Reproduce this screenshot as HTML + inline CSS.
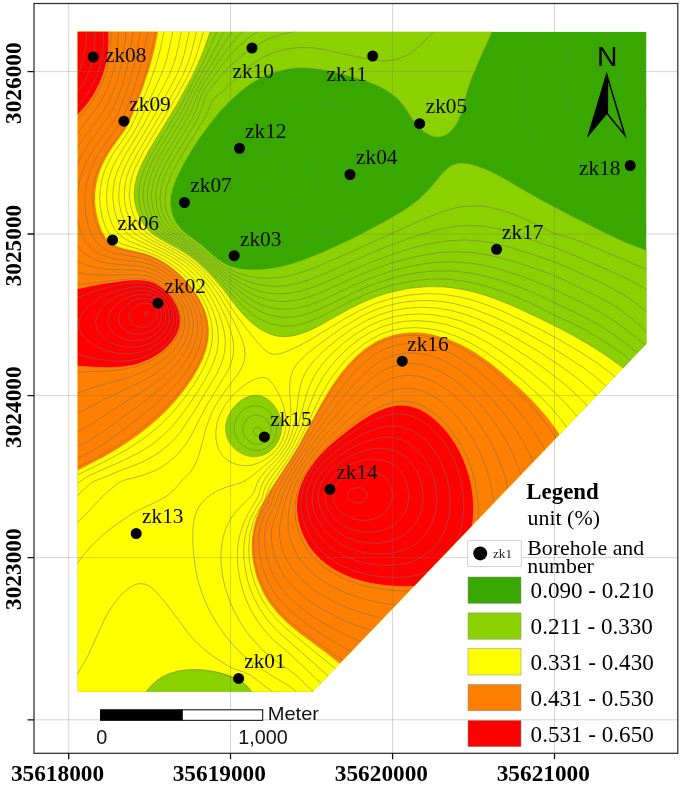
<!DOCTYPE html>
<html lang="en"><head><meta charset="utf-8"><title>Contour map</title>
<style>html,body{margin:0;padding:0;background:#fff}body{width:685px;height:788px;overflow:hidden}</style></head>
<body>
<svg width="685" height="788" viewBox="0 0 685 788" style="display:block">
<defs><clipPath id="mapclip"><polygon points="77.7,31.8 646.5,31.8 646.5,343.7 312.8,691.8 77.7,691.8"/></clipPath><mask id="dgmask" maskUnits="userSpaceOnUse" x="0" y="0" width="685" height="788"><rect width="685" height="788" fill="#fff"/><polygon points="77.7,31.8 646.5,31.8 646.5,343.7 312.8,691.8 77.7,691.8" fill="#555"/><path d="M71.0,24.0 495.1,24.0 491.4,34.0 477.7,64.0 471.5,79.0 467.5,91.0 462.0,111.7 459.3,119.0 457.0,123.4 453.8,128.0 450.0,132.0 446.0,134.9 441.0,136.9 436.0,137.2 431.0,135.9 425.0,132.7 420.3,129.0 416.0,124.4 412.0,119.1 402.8,105.0 396.6,98.0 391.7,94.0 385.7,90.0 379.0,86.5 370.9,83.0 359.0,79.0 340.9,74.0 327.0,70.7 316.0,68.9 306.0,68.0 297.0,68.1 288.0,69.2 279.0,71.2 270.0,74.1 261.0,78.1 252.0,83.1 244.0,88.7 236.0,95.4 228.0,103.1 219.0,113.1 209.0,125.4 199.0,139.1 191.0,151.4 183.0,165.4 176.8,178.0 173.0,187.9 171.1,196.0 170.7,204.0 171.7,211.0 173.2,216.0 175.4,221.0 178.0,225.2 182.0,230.0 187.9,235.0 201.0,244.5 216.0,257.8 223.6,263.0 227.5,265.0 233.0,267.0 239.0,268.4 245.0,269.2 258.0,269.6 273.0,268.0 283.0,265.9 294.0,262.9 305.3,259.0 320.5,253.0 349.0,240.0 383.6,222.0 404.1,210.0 411.4,205.0 419.0,199.0 427.4,191.0 442.0,173.6 446.0,169.5 449.0,167.0 452.0,165.2 456.0,163.7 460.0,163.1 465.0,163.2 471.0,164.2 477.0,165.9 484.0,168.4 491.0,171.4 503.0,177.7 529.0,193.0 548.8,204.0 601.4,231.0 627.2,243.0 655.0,253.1 655.0,700.0 70.0,700.0 70.0,24.0 71.0,24.0Z" fill="#fff" fill-rule="evenodd"/></mask></defs>
<rect width="685" height="788" fill="#fff"/>
<g clip-path="url(#mapclip)">
<polygon points="77.7,31.8 646.5,31.8 646.5,343.7 312.8,691.8 77.7,691.8" fill="#38a800"/>
<path d="M71.0,24.0 495.1,24.0 491.4,34.0 477.7,64.0 471.5,79.0 467.5,91.0 462.0,111.7 459.3,119.0 457.0,123.4 453.8,128.0 450.0,132.0 446.0,134.9 441.0,136.9 436.0,137.2 431.0,135.9 425.0,132.7 420.3,129.0 416.0,124.4 412.0,119.1 402.8,105.0 396.6,98.0 391.7,94.0 385.7,90.0 379.0,86.5 370.9,83.0 359.0,79.0 340.9,74.0 327.0,70.7 316.0,68.9 306.0,68.0 297.0,68.1 288.0,69.2 279.0,71.2 270.0,74.1 261.0,78.1 252.0,83.1 244.0,88.7 236.0,95.4 228.0,103.1 219.0,113.1 209.0,125.4 199.0,139.1 191.0,151.4 183.0,165.4 176.8,178.0 173.0,187.9 171.1,196.0 170.7,204.0 171.7,211.0 173.2,216.0 175.4,221.0 178.0,225.2 182.0,230.0 187.9,235.0 201.0,244.5 216.0,257.8 223.6,263.0 227.5,265.0 233.0,267.0 239.0,268.4 245.0,269.2 258.0,269.6 273.0,268.0 283.0,265.9 294.0,262.9 305.3,259.0 320.5,253.0 349.0,240.0 383.6,222.0 404.1,210.0 411.4,205.0 419.0,199.0 427.4,191.0 442.0,173.6 446.0,169.5 449.0,167.0 452.0,165.2 456.0,163.7 460.0,163.1 465.0,163.2 471.0,164.2 477.0,165.9 484.0,168.4 491.0,171.4 503.0,177.7 529.0,193.0 548.8,204.0 601.4,231.0 627.2,243.0 655.0,253.1 655.0,700.0 70.0,700.0 70.0,24.0 71.0,24.0Z" fill="#8bd100" fill-rule="evenodd"/>
<path d="M71.0,24.0 212.8,24.0 202.4,54.0 197.3,66.0 191.6,78.0 177.8,103.0 148.6,151.0 140.9,166.0 137.1,176.0 135.0,185.0 134.2,194.0 134.8,202.0 136.7,210.0 139.9,218.0 144.1,225.0 148.3,230.0 152.8,234.0 158.5,238.0 179.0,249.1 187.0,254.0 193.9,259.0 199.9,264.0 208.2,272.0 215.5,280.0 223.0,289.0 237.0,307.3 244.0,315.5 251.0,322.3 259.0,328.4 268.0,333.3 276.0,335.9 284.0,336.8 293.0,335.9 303.0,333.1 314.0,328.4 350.0,308.6 364.0,301.7 376.0,296.8 388.0,292.9 406.0,288.8 424.0,286.8 433.0,286.5 442.0,286.7 459.0,288.7 470.0,291.0 482.0,294.3 494.0,298.3 507.0,303.4 523.0,310.4 542.0,319.4 561.1,329.0 577.0,337.6 601.0,352.0 622.3,367.0 630.7,374.0 639.0,381.6 647.3,390.0 655.0,398.5 655.0,700.0 256.6,700.0 252.0,692.0 247.3,686.0 242.0,681.4 236.0,677.8 228.0,674.5 218.0,671.9 206.0,670.0 195.0,669.3 186.0,669.8 178.0,671.0 170.0,673.3 163.0,676.4 157.3,680.0 152.5,684.0 145.0,693.0 138.1,700.0 70.0,700.0 70.0,24.0 71.0,24.0ZM250.2,396.0 245.0,398.0 240.0,401.2 235.8,405.0 231.7,410.0 228.8,415.0 226.5,421.0 225.6,427.0 225.8,432.0 227.0,437.0 229.3,442.0 233.0,447.0 237.0,450.6 242.0,453.6 247.0,455.4 252.0,456.4 258.0,456.3 263.0,455.1 268.0,452.7 272.6,449.0 276.0,445.0 278.9,440.0 280.9,434.0 281.7,428.0 281.5,423.0 280.1,417.0 277.6,411.0 274.0,405.5 270.0,401.3 265.0,397.7 260.0,395.8 255.0,395.3 250.2,396.0Z" fill="#ffff00" fill-rule="evenodd"/>
<path d="M71.0,24.0 159.5,24.0 155.1,47.0 150.2,66.0 142.9,88.0 133.0,114.0 129.0,123.1 125.2,130.0 112.1,148.0 107.0,156.0 102.4,165.0 99.2,173.0 96.7,182.0 95.2,192.0 95.0,201.0 96.0,211.0 98.5,222.0 101.8,231.0 106.0,238.0 108.7,241.0 111.0,242.9 115.0,245.3 120.0,247.4 126.0,249.1 144.0,253.2 150.0,255.2 157.0,258.2 165.0,262.8 172.4,268.0 179.5,274.0 185.5,280.0 190.7,286.0 195.1,292.0 199.5,299.0 203.0,306.0 205.4,312.0 207.5,319.0 208.6,326.0 208.9,332.0 208.3,340.0 206.4,349.0 203.3,358.0 198.5,368.0 192.7,378.0 185.0,389.1 177.0,399.1 168.0,409.0 159.0,417.7 149.0,426.4 138.0,435.0 127.0,442.8 116.0,449.8 104.0,456.8 70.0,474.4 70.0,24.0 71.0,24.0ZM404.0,333.0 411.0,332.5 418.0,332.6 425.0,333.3 432.0,334.4 446.0,338.2 459.9,344.0 474.3,352.0 488.8,362.0 503.7,374.0 521.6,390.0 534.7,403.0 546.1,416.0 555.9,429.0 564.8,443.0 572.6,458.0 579.4,474.0 584.6,490.0 588.3,506.0 590.7,522.0 591.6,538.0 591.2,554.0 589.3,570.0 586.0,585.0 581.2,600.0 575.2,614.0 568.0,627.0 559.0,640.0 549.5,651.0 539.0,661.0 527.0,670.2 514.3,678.0 501.0,684.4 487.0,689.4 472.0,693.1 457.0,695.2 441.0,695.8 426.0,694.9 410.0,692.4 394.0,688.5 378.0,683.1 363.0,676.6 348.0,668.7 338.0,662.2 327.6,654.0 299.0,632.7 287.4,623.0 278.0,613.7 269.4,603.0 265.5,597.0 262.3,591.0 256.9,578.0 253.5,565.0 252.4,558.0 251.8,551.0 251.7,544.0 252.1,537.0 253.2,530.0 254.5,524.0 256.7,517.0 259.4,510.0 263.8,501.0 269.5,491.0 290.4,459.0 297.2,448.0 321.0,403.9 331.0,387.2 339.5,375.0 348.0,364.7 357.0,355.6 366.0,348.1 375.0,342.3 384.0,337.9 394.0,334.7 404.0,333.0Z" fill="#ff8000" fill-rule="evenodd"/>
<path d="M71.0,24.0 108.4,24.0 108.2,31.0 108.5,42.0 107.8,53.0 106.0,63.4 103.0,74.0 99.0,84.1 94.3,93.0 89.0,101.2 84.0,107.6 76.4,116.0 70.0,124.2 70.0,24.0 71.0,24.0ZM124.0,281.0 132.0,280.3 139.0,280.2 145.0,280.8 150.0,281.8 155.0,283.6 160.0,286.4 164.8,290.0 168.8,294.0 172.7,299.0 176.1,305.0 178.4,311.0 179.7,317.0 179.7,323.0 178.8,328.0 177.1,333.0 174.3,338.0 171.0,342.6 167.0,346.8 163.0,350.4 158.0,354.0 152.0,357.7 147.0,360.1 141.0,362.5 135.0,364.4 124.0,366.4 111.0,367.3 96.0,366.9 70.0,365.2 70.0,289.8 78.0,288.9 102.2,284.0 124.0,281.0ZM395.0,406.0 402.0,405.5 408.0,405.9 414.0,407.4 420.0,409.8 426.0,413.1 432.0,417.4 438.4,423.0 444.2,429.0 449.8,436.0 454.5,443.0 459.1,451.0 462.9,459.0 466.3,468.0 469.1,477.0 471.1,486.0 472.4,495.0 473.1,504.0 473.2,512.0 472.7,520.0 471.4,529.0 469.8,536.0 467.5,543.0 464.5,550.0 461.1,556.0 457.0,561.9 452.6,567.0 447.2,572.0 441.9,576.0 436.0,579.5 429.0,582.6 422.0,584.8 416.0,585.9 405.0,586.2 393.0,585.8 382.0,584.8 371.0,583.0 361.0,580.6 351.0,577.4 342.0,573.6 334.0,569.3 327.0,564.6 320.0,558.8 314.0,552.4 309.2,546.0 304.6,538.0 301.2,530.0 298.8,522.0 297.4,514.0 297.0,506.0 297.5,499.0 298.8,492.0 301.1,485.0 304.6,477.0 308.6,470.0 314.0,462.4 320.0,455.2 328.0,447.1 337.0,439.3 352.0,427.5 363.0,419.7 372.0,414.3 380.0,410.4 388.0,407.5 395.0,406.0Z" fill="#ff0000" fill-rule="evenodd"/>
<g mask="url(#dgmask)"><path d="M644.5,24.0 642.4,40.0 641.3,55.0 641.2,69.0 642.0,82.0 643.8,94.0 646.6,106.0 650.4,117.0 655.0,126.7M608.1,24.0 604.0,51.0 603.1,63.0 602.8,75.0 603.2,86.0 604.2,96.0 605.9,106.0 608.5,116.0 611.7,125.0 615.7,134.0 620.2,142.0 625.6,150.0 631.3,157.0 638.1,164.0 646.1,171.0 655.0,177.9M254.0,150.8 249.0,152.4 244.0,155.1 240.7,158.0 237.9,162.0 236.2,166.0 235.6,171.0 236.2,175.0 238.0,179.0 241.0,182.5 245.4,186.0 249.1,188.0 254.0,189.5 260.0,190.0 266.0,189.5 271.0,188.2 276.0,185.8 279.6,183.0 282.0,180.2 284.0,177.0 285.1,174.0 285.6,170.0 285.3,167.0 282.9,161.0 280.6,158.0 278.0,155.7 271.0,151.9 267.0,150.8 262.0,150.1 254.0,150.8M572.4,24.0 568.9,41.0 566.4,57.0 565.0,72.0 564.7,86.0 565.4,99.0 567.3,111.0 570.2,122.0 574.4,133.0 580.2,144.0 586.8,154.0 595.9,165.0 605.7,175.0 616.1,184.0 627.0,192.1 639.2,200.0 655.0,208.9M256.0,131.9 251.0,132.8 246.0,134.4 232.0,141.2 227.9,144.0 224.0,147.5 217.0,156.2 215.0,160.0 213.6,164.0 212.9,168.0 213.0,173.0 213.6,177.0 215.1,182.0 219.5,191.0 225.0,196.3 239.0,206.3 247.0,209.2 258.0,211.3 271.0,212.2 280.0,211.4 288.0,208.9 301.4,202.0 307.0,197.6 311.9,192.0 315.9,186.0 318.2,180.0 319.0,173.0 318.4,166.0 316.6,160.0 313.3,154.0 308.6,148.0 303.0,143.1 297.0,139.5 287.0,134.9 282.0,133.3 276.0,132.3 256.0,131.9M535.9,24.0 530.4,45.0 526.4,64.0 523.9,80.0 522.9,95.0 523.4,109.0 525.3,121.0 528.9,133.0 534.1,144.0 542.1,156.0 551.9,167.0 565.2,179.0 583.2,193.0 600.3,205.0 617.0,215.2 632.1,223.0 655.0,233.3M285.0,98.0 276.0,99.0 268.0,100.5 261.0,102.5 254.0,105.4 248.0,108.5 241.0,113.1 223.0,127.1 217.0,132.5 211.0,138.8 206.0,145.0 201.2,152.0 197.2,159.0 193.9,166.0 191.4,173.0 190.2,179.0 190.2,184.0 190.8,186.0 192.0,187.6 194.0,188.7 200.0,190.9 204.0,193.3 207.0,196.2 214.0,204.6 230.0,219.4 234.0,222.3 244.0,227.1 248.7,230.0 254.1,235.0 260.0,243.6 262.0,245.7 265.0,247.4 269.0,248.2 275.0,248.2 283.0,247.1 291.5,245.0 301.0,242.0 314.0,237.0 325.5,232.0 346.4,221.0 363.1,210.0 370.4,204.0 375.4,199.0 379.5,194.0 382.5,189.0 384.5,184.0 385.5,179.0 385.6,173.0 384.4,166.0 381.7,158.0 377.5,149.0 371.0,137.6 364.5,128.0 358.6,121.0 352.1,115.0 346.0,110.7 339.0,106.9 331.0,103.6 322.1,101.0 313.0,99.1 304.0,98.0 295.0,97.6 285.0,98.0M186.0,200.8 184.0,201.6 182.0,204.1 180.9,207.0 180.3,211.0 180.6,215.0 181.7,219.0 183.1,222.0 185.9,226.0 190.0,230.0 201.0,238.3 213.4,249.0 218.7,253.0 222.2,255.0 226.0,256.4 229.0,256.8 231.6,256.0 232.1,255.0 231.7,253.0 228.6,246.0 226.0,236.9 224.0,233.2 221.0,230.8 213.0,227.5 210.0,225.7 207.5,223.0 203.0,215.7 200.0,212.0 189.0,202.2 186.0,200.8M495.5,24.0 472.3,77.0 467.8,90.0 462.0,111.3 458.7,120.0 455.0,126.5 451.0,131.4 446.6,135.0 442.0,136.9 437.0,137.2 432.0,136.0 427.0,133.7 422.0,130.1 415.0,122.8 404.3,107.0 400.4,102.0 395.4,97.0 390.2,93.0 383.7,89.0 375.4,85.0 365.0,81.0 355.3,78.0 337.0,73.1 323.0,70.0 310.0,68.3 299.0,68.0 287.0,69.3 276.0,72.0 265.0,76.2 254.0,82.0 246.0,87.5 239.3,93.0 220.0,111.4 211.0,122.8 200.0,137.9 192.0,150.0 185.0,161.9 176.0,180.2 173.0,188.5 171.3,196.0 170.8,203.0 171.6,210.0 173.3,216.0 176.2,222.0 180.8,228.0 186.3,233.0 201.0,244.0 217.5,258.0 223.0,261.8 229.0,264.9 239.0,268.1 251.0,269.5 264.0,269.2 278.0,267.0 289.0,264.3 299.6,261.0 325.1,251.0 355.0,237.0 389.0,219.0 407.0,208.0 420.1,198.0 429.3,189.0 444.0,171.6 449.0,167.1 452.0,165.2 456.0,163.6 460.0,163.0 464.0,163.1 469.0,163.8 476.0,165.5 491.0,171.4 503.0,177.7 541.5,200.0 571.5,216.0 618.1,239.0 630.0,244.1 647.0,250.3 655.0,254.1M441.1,24.0 422.0,43.5 413.4,51.0 409.0,54.1 404.0,56.8 394.4,60.0 384.0,60.9 374.0,60.2 362.0,58.0 323.0,49.3 311.0,47.7 300.0,47.5 287.0,48.8 275.0,51.9 263.3,57.0 252.3,64.0 243.0,71.6 223.0,91.2 216.0,96.5 213.7,99.0 211.3,103.0 206.6,114.0 203.0,121.0 182.9,153.0 173.0,170.8 169.3,179.0 167.0,186.0 165.5,193.0 164.9,200.0 165.5,207.0 167.0,213.0 169.6,219.0 172.8,224.0 177.1,229.0 181.4,233.0 199.0,245.9 218.0,262.0 228.0,268.5 238.0,273.0 250.0,276.5 261.0,278.1 273.0,278.2 282.0,277.2 292.0,275.2 302.7,272.0 314.0,267.9 335.0,259.0 409.0,225.6 430.0,216.5 443.0,211.5 453.0,208.5 463.0,206.5 473.0,205.8 483.0,206.2 498.0,209.1 515.0,214.7 530.0,221.3 553.3,233.0 572.0,238.4 585.0,243.2 640.0,266.5 647.3,270.0 655.0,274.6M382.2,24.0 373.0,27.4 363.0,29.3 353.0,29.7 326.0,29.0 313.0,29.3 298.0,30.9 282.0,34.1 268.0,39.1 255.0,46.0 242.0,55.3 230.2,66.0 221.0,75.9 213.0,85.4 206.9,94.0 205.1,98.0 201.4,110.0 197.5,119.0 192.4,128.0 172.8,160.0 167.5,170.0 163.8,179.0 161.6,186.0 160.4,193.0 160.1,200.0 160.9,207.0 162.6,213.0 165.3,219.0 168.5,224.0 172.9,229.0 179.8,235.0 199.0,248.8 219.0,265.7 231.0,273.7 242.0,279.2 253.0,283.2 264.0,285.6 275.0,286.4 283.0,285.9 291.0,284.8 300.0,282.6 309.0,279.8 324.0,273.9 363.0,256.5 385.0,247.3 409.0,238.4 430.0,231.8 445.0,228.1 459.0,226.0 472.0,225.5 486.0,226.6 499.0,229.1 512.0,232.8 541.0,243.3 556.0,248.0 573.0,254.7 614.7,273.0 632.0,281.2 645.0,288.7 655.0,296.6M270.9,24.0 263.0,28.2 255.0,33.2 247.0,39.1 240.0,45.3 233.0,52.3 226.0,60.2 209.0,82.4 201.8,94.0 196.1,110.0 191.5,120.0 171.0,153.8 164.3,166.0 159.5,177.0 156.7,187.0 155.7,197.0 156.7,207.0 159.6,216.0 164.5,224.0 168.9,229.0 173.4,233.0 197.0,249.8 221.0,270.1 230.0,276.5 239.0,282.1 248.0,286.7 256.0,290.0 264.0,292.3 272.0,293.6 280.0,294.0 288.0,293.5 300.0,291.3 313.0,287.2 325.0,282.4 358.0,267.7 375.0,260.6 394.0,253.7 413.0,247.8 431.0,243.5 448.0,240.8 464.0,239.9 479.0,240.8 495.0,243.4 514.0,248.5 549.0,259.8 570.0,268.3 605.0,284.7 624.0,294.9 637.2,304.0 655.0,319.5M251.0,24.0 241.0,33.1 231.0,44.3 220.0,59.2 205.0,81.4 198.9,92.0 192.0,109.0 187.6,118.0 164.1,157.0 159.4,166.0 155.9,174.0 153.1,183.0 151.6,192.0 151.6,200.0 152.8,208.0 155.2,215.0 159.0,222.0 163.9,228.0 170.7,234.0 195.0,250.7 224.0,275.4 234.0,282.9 243.0,289.1 252.0,294.2 260.0,297.6 269.0,300.1 278.0,301.4 285.0,301.5 293.0,300.8 301.0,299.3 309.0,297.0 323.0,291.6 356.0,276.7 375.0,268.9 396.0,261.7 417.0,256.3 437.0,252.9 455.0,251.7 473.0,252.6 491.0,255.5 515.0,261.8 546.0,272.3 561.0,278.6 594.0,294.5 609.0,302.5 621.0,310.2 631.0,317.9 647.0,332.0 655.0,337.8M238.5,24.0 232.0,32.0 225.0,42.0 200.0,83.1 195.3,92.0 185.0,114.2 159.9,156.0 154.8,166.0 151.0,175.0 148.5,184.0 147.4,192.0 147.5,200.0 148.8,208.0 151.2,215.0 154.9,222.0 159.8,228.0 165.3,233.0 172.3,238.0 189.0,248.7 196.0,253.8 230.0,283.7 245.0,295.6 257.0,302.8 263.0,305.4 270.0,307.5 279.0,309.0 288.0,309.2 297.0,308.2 306.0,306.1 322.0,300.1 354.0,285.2 371.0,278.0 390.0,271.4 408.0,266.7 424.0,263.7 439.0,262.1 454.0,261.8 469.0,263.0 481.0,264.8 494.0,267.7 508.0,271.7 523.0,276.7 548.0,286.5 582.0,302.7 599.0,311.5 614.0,320.8 624.0,328.2 655.0,352.8M258.0,427.0 255.0,427.9 254.0,429.2 253.5,431.0 253.8,433.0 255.0,434.7 258.0,436.0 260.6,435.0 261.4,434.0 262.1,432.0 261.8,430.0 261.0,428.7 260.0,427.7 258.0,427.0M228.9,24.0 222.0,35.2 208.6,61.0 195.3,85.0 181.2,113.0 159.0,149.4 151.6,163.0 147.7,172.0 144.8,181.0 143.3,190.0 143.2,198.0 144.5,207.0 147.1,215.0 151.5,223.0 156.5,229.0 165.0,236.0 186.0,249.0 197.0,257.0 207.3,266.0 236.0,293.6 245.0,301.6 256.0,309.2 262.0,312.2 268.0,314.5 275.0,316.3 281.0,317.1 287.0,317.4 294.0,316.9 303.0,315.1 313.0,311.9 324.0,307.1 351.0,293.9 365.0,287.6 381.0,281.6 398.0,276.6 416.0,272.9 434.0,271.0 451.0,270.9 469.0,272.8 481.0,275.1 493.0,278.2 507.0,282.6 521.0,287.6 540.0,295.7 586.0,317.8 602.0,326.8 618.0,337.6 638.0,353.1 655.0,368.0M252.0,415.9 249.0,417.3 247.0,419.0 244.1,423.0 242.8,428.0 242.9,431.0 243.6,434.0 246.5,439.0 251.0,442.6 256.0,444.2 259.0,444.3 262.0,443.7 265.0,442.2 267.0,440.5 269.9,436.0 271.0,431.0 270.8,428.0 270.0,425.0 267.0,420.1 263.0,416.9 258.0,415.2 255.0,415.2 252.0,415.9M220.6,24.0 216.2,33.0 203.5,62.0 184.0,99.7 175.0,115.7 154.0,150.0 146.5,164.0 142.4,174.0 139.9,183.0 138.8,192.0 139.0,200.0 140.5,208.0 143.3,216.0 147.2,223.0 152.0,229.0 160.5,236.0 185.5,251.0 199.0,261.1 214.7,276.0 239.0,302.4 249.0,311.9 254.0,315.6 260.0,319.3 271.0,323.9 282.0,326.0 288.0,326.2 294.0,325.7 303.0,323.7 312.0,320.6 323.0,315.6 350.0,301.5 363.0,295.4 378.0,289.5 394.0,284.6 413.0,280.8 431.0,279.0 448.0,279.2 466.0,281.5 478.0,284.0 490.0,287.4 503.0,291.7 516.0,296.7 536.0,305.6 555.0,315.4 571.8,323.0 585.4,330.0 606.0,342.4 626.0,356.6 640.0,369.0 655.0,385.0M253.0,405.9 249.0,406.9 245.0,408.8 241.0,412.0 238.5,415.0 236.2,419.0 234.8,423.0 234.2,427.0 234.4,431.0 235.4,435.0 237.3,439.0 240.2,443.0 243.6,446.0 248.0,448.6 252.0,450.0 256.0,450.6 260.0,450.3 264.0,449.1 267.0,447.5 270.2,445.0 273.0,441.5 274.9,438.0 276.2,434.0 276.8,429.0 276.5,425.0 275.4,421.0 273.5,417.0 271.0,413.4 268.0,410.5 265.0,408.4 261.0,406.6 257.0,405.8 253.0,405.9M213.0,24.0 201.9,55.0 191.8,77.0 177.0,104.3 148.6,151.0 140.9,166.0 137.4,175.0 135.2,184.0 134.2,193.0 134.7,201.0 136.3,209.0 139.3,217.0 142.6,223.0 147.4,229.0 151.7,233.0 157.1,237.0 183.3,252.0 192.0,258.0 199.3,264.0 214.3,279.0 222.8,289.0 240.0,310.9 246.0,317.5 252.0,323.1 262.0,330.3 271.0,334.5 276.0,335.9 281.0,336.7 291.0,336.2 300.0,334.1 310.0,330.3 321.0,324.8 347.0,310.2 360.0,303.5 375.0,297.2 390.0,292.4 409.0,288.3 428.0,286.6 446.0,287.0 464.0,289.7 476.0,292.6 488.0,296.2 502.0,301.4 516.0,307.2 536.0,316.5 562.0,329.5 590.0,345.1 611.0,358.8 624.2,369.0 639.1,385.0 655.0,405.4M259.3,700.0 246.9,686.0 243.0,682.8 239.0,680.5 223.0,674.1 216.0,672.0 205.0,670.1 194.0,669.5 185.0,670.0 177.0,671.3 169.0,673.7 161.9,677.0 156.1,681.0 150.8,686.0 146.1,692.0 141.0,700.0M251.0,395.8 246.0,397.5 241.0,400.4 236.0,404.7 232.0,409.5 228.8,415.0 226.8,420.0 225.8,425.0 225.7,431.0 226.6,436.0 228.5,441.0 231.8,446.0 235.8,450.0 240.0,452.9 245.0,455.3 251.0,456.7 256.0,456.7 261.0,455.8 266.0,453.7 271.0,450.2 274.9,446.0 278.0,441.2 280.2,436.0 281.4,430.0 281.5,424.0 280.5,418.0 278.3,412.0 275.0,406.5 271.0,401.9 266.0,398.1 261.0,395.9 256.0,395.2 251.0,395.8M205.8,24.0 196.9,54.0 192.7,65.0 187.8,76.0 177.0,95.9 143.2,152.0 135.1,168.0 131.9,177.0 130.0,186.0 129.4,195.0 130.3,204.0 132.3,212.0 135.3,219.0 139.0,225.0 144.4,231.0 149.1,235.0 155.0,239.0 177.2,251.0 187.0,257.1 197.1,265.0 207.3,275.0 219.6,290.0 238.0,317.3 246.0,328.3 257.0,341.9 264.0,349.4 269.0,353.0 274.0,354.4 280.0,353.7 287.0,351.3 298.0,346.4 309.0,340.5 344.2,319.0 359.0,310.8 374.0,304.0 390.0,298.8 407.0,295.3 425.0,293.7 442.0,294.2 459.0,296.8 473.0,300.3 487.0,305.0 502.0,311.0 519.4,319.0 541.5,330.0 560.0,340.0 580.2,352.0 597.0,362.9 613.0,375.0 619.2,381.0 625.6,388.0 633.0,397.3 640.7,408.0 647.9,419.0 655.0,431.0M655.0,689.8 648.5,700.0M283.1,700.0 251.0,675.5 244.0,672.0 234.2,669.0 225.0,664.1 214.2,657.0 204.9,650.0 196.1,642.0 188.9,634.0 166.0,603.4 156.0,591.7 152.0,588.0 149.0,585.9 145.0,584.2 141.0,583.6 138.0,583.8 134.0,585.0 127.0,589.4 120.0,596.1 112.9,605.0 108.0,612.9 104.0,620.4 87.3,657.0 77.0,674.8 70.0,688.1M259.0,377.7 253.0,380.0 246.0,384.1 239.0,389.4 232.0,396.2 227.0,402.3 222.7,409.0 219.3,416.0 217.1,423.0 215.9,431.0 215.9,438.0 217.2,445.0 219.5,451.0 222.9,456.0 227.0,459.8 232.0,462.8 238.0,464.9 245.0,465.8 252.0,465.1 259.0,462.7 267.0,458.3 273.0,453.5 278.0,447.8 282.0,441.0 284.9,433.0 286.1,424.0 285.6,415.0 283.2,405.0 279.0,394.4 274.0,385.5 269.0,379.7 267.0,378.4 264.0,377.4 259.0,377.7M198.5,24.0 191.0,54.0 187.2,65.0 182.9,75.0 175.0,90.0 137.5,153.0 129.9,168.0 126.8,177.0 124.9,186.0 124.3,195.0 124.9,203.0 126.6,211.0 129.7,219.0 133.4,225.0 138.7,231.0 143.5,235.0 149.4,239.0 175.8,253.0 187.0,260.1 193.2,265.0 199.8,271.0 205.4,277.0 211.1,284.0 217.5,293.0 224.2,304.0 233.5,321.0 239.8,334.0 242.6,341.0 244.5,348.0 245.1,354.0 244.5,360.0 242.5,366.0 239.3,372.0 221.0,396.7 216.0,404.7 212.1,412.0 206.3,427.0 200.0,451.2 197.5,459.0 194.4,466.0 190.4,472.0 181.6,481.0 174.0,490.0 167.0,495.9 158.0,501.0 138.0,510.4 130.0,515.1 114.0,526.0 102.0,535.6 91.2,546.0 82.0,556.7 76.0,565.6 70.0,577.0M655.0,644.9 648.3,660.0 640.7,674.0 632.5,687.0 622.9,700.0M304.2,700.0 296.0,691.6 290.0,686.4 268.0,673.5 242.8,655.0 232.1,644.0 224.8,635.0 217.2,624.0 211.2,614.0 205.8,603.0 201.5,592.0 198.2,581.0 195.4,568.0 193.6,554.0 192.7,540.0 193.0,527.0 194.4,518.0 197.2,510.0 200.8,504.0 206.4,498.0 213.0,493.2 219.0,490.0 229.0,486.2 241.0,482.9 247.0,479.5 253.0,475.2 270.0,461.2 275.0,456.4 279.6,451.0 283.5,445.0 286.4,439.0 288.5,433.0 290.1,426.0 291.0,413.0 289.7,391.0 289.7,384.0 290.7,377.0 293.1,370.0 295.5,366.0 298.5,362.0 306.7,354.0 322.0,342.0 341.9,328.0 361.0,316.5 370.0,312.2 378.0,308.9 387.0,305.9 396.0,303.7 405.0,302.0 415.0,300.9 425.0,300.5 434.0,300.8 443.0,301.6 453.0,303.3 472.0,308.4 493.0,316.5 506.9,323.0 524.5,332.0 554.6,349.0 583.7,368.0 594.5,376.0 603.8,384.0 610.8,391.0 617.6,399.0 625.0,408.9 631.6,419.0 638.1,430.0 644.4,442.0 650.0,454.0 655.0,466.2M191.0,24.0 184.0,55.0 180.8,65.0 177.0,74.2 171.0,86.0 147.2,128.0 129.8,157.0 124.0,169.0 121.3,177.0 119.4,186.0 118.7,195.0 119.2,203.0 120.8,211.0 123.6,219.0 127.0,225.0 132.1,231.0 136.9,235.0 143.1,239.0 172.1,254.0 184.0,261.4 190.0,266.0 196.6,272.0 202.2,278.0 207.7,285.0 213.7,294.0 219.9,305.0 225.5,317.0 229.8,328.0 232.4,337.0 233.5,344.0 233.7,351.0 232.6,358.0 230.4,365.0 227.1,372.0 206.9,405.0 190.3,437.0 185.0,445.4 178.7,453.0 174.0,457.6 168.0,462.5 162.0,466.7 155.0,470.6 143.0,475.3 123.0,480.5 118.0,483.2 103.8,495.0 88.8,511.0 78.0,521.8 70.0,530.9M322.1,700.0 297.0,676.1 290.0,670.6 272.0,658.2 262.5,650.0 251.5,638.0 246.0,630.9 239.5,621.0 233.6,610.0 228.9,599.0 225.0,587.0 222.8,577.0 221.0,561.0 221.0,551.0 222.7,539.0 225.6,529.0 231.2,518.0 237.4,510.0 252.2,495.0 254.1,492.0 257.1,483.0 259.9,478.0 264.7,472.0 279.6,456.0 284.0,449.9 287.9,443.0 291.7,434.0 294.5,424.0 296.1,415.0 298.8,393.0 301.4,382.0 303.7,376.0 306.3,371.0 313.6,361.0 324.6,350.0 339.1,338.0 353.3,328.0 367.3,320.0 380.0,314.5 394.0,310.4 408.0,308.0 422.0,307.2 436.0,308.0 450.0,310.2 465.0,314.3 480.0,319.9 497.3,328.0 517.6,339.0 537.8,351.0 557.6,364.0 572.0,374.3 584.1,384.0 593.9,393.0 602.0,401.8 610.0,412.0 618.0,424.1 625.9,438.0 632.6,452.0 639.0,468.0 644.2,484.0 648.5,501.0 651.6,518.0 653.4,535.0 653.9,552.0 653.3,569.0 651.5,585.0 648.5,601.0 644.2,617.0 638.6,633.0 632.0,647.9 624.4,662.0 616.0,675.1 606.2,688.0 595.4,700.0M183.0,24.0 176.1,56.0 173.0,65.8 169.3,75.0 142.8,126.0 124.0,157.0 117.8,170.0 115.2,178.0 113.4,187.0 112.8,195.0 113.3,204.0 115.0,213.0 117.8,221.0 121.9,228.0 126.5,233.0 130.3,236.0 136.0,239.4 164.3,253.0 179.0,261.6 186.0,266.8 191.9,272.0 197.7,278.0 203.3,285.0 209.2,294.0 214.6,304.0 219.0,314.0 222.4,324.0 224.5,333.0 225.3,341.0 225.0,349.0 223.8,356.0 220.8,365.0 216.1,375.0 194.0,411.6 181.1,431.0 176.0,437.3 170.0,443.6 159.0,452.6 146.0,460.3 137.0,464.3 121.0,470.3 107.0,476.3 93.0,481.6 88.7,485.0 79.0,494.0 70.0,503.9M341.2,700.0 324.0,686.1 290.0,654.0 274.0,640.5 265.0,631.0 256.8,620.0 251.4,611.0 246.3,600.0 242.4,589.0 239.6,578.0 237.8,566.0 237.4,560.0 237.5,549.0 239.0,538.0 243.2,524.0 247.9,514.0 258.0,497.1 261.4,486.0 263.8,481.0 267.8,475.0 284.0,455.0 288.5,448.0 292.2,441.0 298.0,426.0 305.4,398.0 309.0,387.0 314.8,375.0 322.4,364.0 332.5,353.0 344.8,342.0 357.0,333.0 369.0,325.9 381.0,320.6 393.0,316.9 406.0,314.6 419.0,313.9 433.0,314.7 447.0,317.1 461.0,321.1 475.9,327.0 492.0,335.0 509.2,345.0 529.4,358.0 549.1,372.0 563.1,383.0 574.5,393.0 584.4,403.0 592.8,413.0 601.0,424.6 608.4,437.0 615.3,451.0 621.1,465.0 626.5,481.0 630.6,497.0 633.6,513.0 635.5,530.0 636.1,547.0 635.4,563.0 633.5,579.0 630.4,595.0 625.9,611.0 620.3,626.0 613.8,640.0 606.0,653.7 597.0,666.9 587.1,679.0 576.4,690.0 564.9,700.0M174.5,24.0 167.3,57.0 164.1,67.0 159.8,78.0 137.3,126.0 132.0,135.2 117.8,157.0 114.1,164.0 111.2,171.0 108.7,179.0 107.0,188.0 106.5,197.0 107.1,206.0 109.1,216.0 111.9,224.0 115.2,230.0 120.0,235.4 124.0,238.3 128.8,241.0 156.0,252.2 164.0,256.1 172.4,261.0 179.6,266.0 186.7,272.0 192.7,278.0 198.5,285.0 203.9,293.0 208.9,302.0 212.9,311.0 215.9,320.0 217.6,328.0 218.4,336.0 218.2,344.0 216.9,352.0 214.5,360.0 210.7,369.0 205.4,379.0 198.0,391.2 189.0,404.7 180.0,417.0 172.0,426.6 164.0,434.6 153.0,443.7 141.0,451.5 122.3,461.0 90.0,475.1 83.6,479.0 70.0,488.6M366.0,700.0 356.0,694.8 346.0,688.8 337.0,682.7 328.0,675.7 280.0,633.4 272.7,626.0 266.0,618.0 260.0,609.1 255.0,600.0 250.7,590.0 247.5,580.0 245.3,570.0 244.0,560.0 243.7,550.0 244.5,540.0 246.6,530.0 249.6,521.0 251.8,516.0 257.0,506.5 261.9,499.0 263.9,491.0 266.2,485.0 271.2,477.0 286.0,457.2 293.4,445.0 300.5,430.0 311.0,401.7 316.0,389.9 322.4,378.0 330.1,367.0 338.8,357.0 349.3,347.0 360.0,338.6 371.0,331.9 382.0,326.8 393.0,323.4 405.0,321.3 417.0,320.6 431.0,321.6 445.0,324.2 459.0,328.6 473.0,334.7 488.3,343.0 505.5,354.0 525.0,368.0 542.7,382.0 555.2,393.0 566.3,404.0 575.9,415.0 584.0,426.0 592.0,439.0 598.6,452.0 604.5,466.0 609.5,481.0 613.5,497.0 616.3,513.0 617.9,530.0 618.1,546.0 617.1,562.0 614.8,578.0 611.0,594.0 606.2,609.0 600.3,623.0 592.9,637.0 584.5,650.0 575.2,662.0 564.9,673.0 553.7,683.0 541.6,692.0 528.4,700.0M165.8,24.0 159.9,51.0 156.1,65.0 149.7,83.0 139.6,108.0 134.4,120.0 130.4,128.0 126.0,135.2 112.3,155.0 107.5,164.0 104.2,172.0 101.5,181.0 100.1,190.0 99.7,199.0 100.5,208.0 102.4,218.0 105.5,227.0 109.3,234.0 114.0,239.2 118.1,242.0 123.0,244.3 149.0,252.6 157.0,256.0 164.0,259.6 172.4,265.0 180.1,271.0 187.0,277.6 193.0,284.4 198.5,292.0 203.2,300.0 207.0,308.0 209.8,316.0 211.7,324.0 212.5,332.0 212.3,339.0 211.1,347.0 208.9,355.0 205.4,364.0 200.3,374.0 194.2,384.0 186.0,395.9 178.0,406.1 170.0,415.2 161.0,424.3 145.8,437.0 127.8,449.0 107.8,460.0 70.0,478.7M413.6,700.0 397.0,696.4 380.0,691.2 364.0,684.7 348.0,676.5 339.0,671.0 332.0,666.0 285.0,627.5 276.0,618.5 269.0,610.0 263.0,601.0 258.3,592.0 254.3,582.0 251.2,571.0 249.3,560.0 248.7,549.0 249.8,535.0 252.8,523.0 255.1,517.0 259.2,509.0 265.0,501.0 266.6,494.0 269.0,487.6 272.9,481.0 287.5,460.0 295.0,448.0 302.5,434.0 321.0,395.3 328.0,383.1 335.0,372.9 344.0,362.0 352.8,353.0 362.5,345.0 372.0,338.7 382.0,333.8 392.0,330.4 403.0,328.3 414.0,327.6 428.0,328.5 442.0,331.4 456.0,336.1 471.0,343.2 485.6,352.0 502.4,364.0 522.1,380.0 539.7,396.0 551.4,408.0 561.4,420.0 570.6,433.0 578.1,446.0 584.8,460.0 590.4,475.0 594.9,491.0 598.0,507.0 599.8,524.0 600.2,541.0 599.0,558.0 596.4,574.0 592.4,590.0 587.0,605.0 580.5,619.0 572.2,633.0 562.6,646.0 552.0,657.7 540.6,668.0 528.0,677.2 514.0,685.4 500.0,691.7 485.0,696.7 470.4,700.0M157.3,24.0 151.4,52.0 147.2,68.0 140.4,89.0 131.3,113.0 127.3,122.0 123.5,129.0 109.7,148.0 104.6,156.0 100.5,164.0 96.8,173.0 94.3,182.0 92.8,192.0 92.6,202.0 93.5,212.0 96.0,223.0 99.4,232.0 103.8,239.0 109.0,243.9 114.0,246.9 119.0,248.9 144.0,254.6 151.0,257.0 158.0,260.1 166.0,264.7 173.3,270.0 180.2,276.0 186.8,283.0 192.3,290.0 197.5,298.0 201.6,306.0 204.3,313.0 206.1,320.0 207.1,327.0 207.1,334.0 206.1,342.0 204.1,350.0 201.0,358.1 196.6,367.0 191.3,376.0 185.0,385.0 178.0,393.8 170.0,402.8 161.0,411.7 151.0,420.6 140.0,429.6 128.6,438.0 116.7,446.0 103.6,454.0 92.6,460.0 80.1,466.0 70.0,470.1M401.0,335.9 414.0,335.1 427.0,336.3 440.0,339.2 453.0,344.0 466.7,351.0 480.0,359.6 493.5,370.0 509.5,384.0 525.0,399.0 536.8,412.0 547.1,425.0 556.4,439.0 564.5,454.0 570.8,469.0 575.9,485.0 579.5,501.0 581.5,517.0 582.2,533.0 581.4,549.0 579.3,564.0 575.8,579.0 571.0,593.3 564.8,607.0 557.4,620.0 548.7,632.0 539.0,643.0 528.0,653.1 516.0,661.9 503.0,669.5 490.0,675.4 476.0,680.0 462.0,683.2 448.0,685.0 433.0,685.5 418.0,684.6 403.0,682.4 387.0,678.7 372.0,673.9 357.0,667.8 343.6,661.0 336.0,656.0 300.0,629.9 288.0,619.9 278.2,610.0 270.0,599.5 263.4,588.0 258.2,575.0 255.0,562.0 253.6,550.0 253.8,538.0 255.6,527.0 259.0,516.8 262.1,511.0 267.6,503.0 271.0,492.2 274.0,486.0 297.2,450.0 321.0,407.7 331.0,391.3 339.5,379.0 348.0,368.4 356.0,359.9 365.0,352.0 374.0,345.7 383.0,341.0 392.0,337.8 401.0,335.9M149.3,24.0 143.7,53.0 139.8,69.0 133.8,89.0 126.5,109.0 122.6,118.0 118.2,126.0 103.6,146.0 97.8,155.0 93.1,164.0 89.2,174.0 86.5,184.0 85.0,195.0 84.8,206.0 85.9,216.0 88.2,226.0 91.8,235.0 96.5,242.0 103.2,248.0 109.0,251.2 116.0,253.7 142.0,258.1 148.0,259.7 154.0,262.0 161.0,265.6 167.7,270.0 174.0,275.0 180.2,281.0 186.3,288.0 191.3,295.0 195.3,302.0 198.8,310.0 200.9,317.0 202.0,324.0 202.2,331.0 201.4,338.0 199.7,345.0 197.0,352.5 193.4,360.0 189.0,367.5 183.0,376.0 177.0,383.4 163.0,397.9 152.0,407.5 139.0,418.0 108.0,441.0 97.1,448.0 88.0,453.1 79.0,457.4 70.0,460.7M403.0,343.9 415.0,343.5 427.0,345.0 439.0,348.2 451.0,353.2 463.0,359.9 475.0,368.3 487.8,379.0 501.3,392.0 514.4,406.0 525.1,419.0 534.4,432.0 542.9,446.0 549.7,460.0 555.5,475.0 559.7,490.0 562.5,505.0 564.0,520.0 564.1,534.0 562.9,549.0 560.5,563.0 557.0,576.0 552.1,589.0 546.0,601.4 538.8,613.0 530.2,624.0 521.0,633.6 511.0,642.0 500.0,649.6 488.1,656.0 476.0,661.0 463.0,664.9 449.0,667.6 436.0,668.9 422.0,669.0 408.0,667.8 393.0,665.4 378.0,661.6 364.0,657.0 351.0,651.4 339.0,644.8 317.0,631.0 303.0,621.3 291.0,611.5 281.0,601.4 273.0,590.7 267.0,579.6 262.3,567.0 259.6,554.0 258.8,546.0 258.7,539.0 259.3,532.0 260.6,525.0 264.0,516.0 271.0,504.0 275.7,491.0 284.9,475.0 316.0,425.5 330.0,404.2 341.0,388.7 350.0,377.4 358.6,368.0 367.0,360.3 376.0,353.7 384.7,349.0 394.0,345.7 403.0,343.9M141.6,24.0 136.9,52.0 133.5,68.0 128.4,86.0 122.0,103.8 117.5,114.0 113.0,122.0 97.0,144.0 90.6,154.0 85.4,164.0 81.2,175.0 78.3,186.0 76.6,198.0 76.4,209.0 77.5,220.0 80.0,230.0 84.1,239.0 86.7,243.0 90.0,246.8 97.0,252.4 104.0,255.9 112.0,258.4 120.0,259.8 140.0,261.9 151.0,264.8 157.0,267.4 163.0,270.9 169.0,275.2 175.0,280.5 181.1,287.0 186.4,294.0 190.7,301.0 193.9,308.0 196.2,315.0 197.4,322.0 197.6,328.0 196.9,335.0 195.5,341.0 193.4,347.0 190.6,353.0 186.6,360.0 177.0,372.7 164.0,385.9 147.0,399.6 99.0,434.4 84.0,443.5 70.0,449.5M407.0,353.0 417.0,353.2 428.0,355.1 439.0,358.7 450.0,364.0 461.0,371.0 472.4,380.0 484.0,390.9 495.3,403.0 506.1,416.0 515.4,429.0 523.5,442.0 530.2,455.0 536.0,469.0 540.5,483.0 543.7,497.0 545.6,511.0 546.2,525.0 545.7,538.0 544.0,551.0 541.2,563.0 537.3,575.0 532.1,587.0 526.0,597.7 519.0,607.6 511.0,616.8 502.2,625.0 492.9,632.0 482.0,638.6 471.0,643.7 459.0,647.9 447.0,650.7 435.0,652.4 421.0,653.0 406.0,652.2 391.0,650.0 375.0,646.2 361.0,641.6 348.0,636.0 332.0,627.7 316.0,618.3 305.0,610.9 295.0,602.8 287.0,595.0 279.8,586.0 274.0,576.5 269.8,567.0 266.5,556.0 264.8,545.0 264.6,534.0 266.3,524.0 268.4,518.0 274.4,506.0 281.0,489.0 288.7,475.0 300.0,456.8 313.0,437.3 325.0,420.5 339.0,402.2 351.0,387.5 361.0,376.7 370.0,368.5 379.0,362.1 388.0,357.4 397.0,354.4 407.0,353.0M134.1,24.0 130.4,51.0 127.8,65.0 123.6,81.0 118.0,97.0 113.1,108.0 108.1,117.0 89.2,143.0 81.2,156.0 74.4,171.0 70.0,185.5M70.0,231.1 73.5,240.0 78.8,248.0 85.1,254.0 93.0,258.8 101.0,261.8 110.0,263.7 137.0,265.9 146.0,267.4 156.0,271.0 166.0,277.1 171.8,282.0 177.0,287.3 182.0,293.6 186.1,300.0 189.5,307.0 191.6,313.0 192.8,319.0 193.2,325.0 192.8,331.0 191.6,337.0 189.5,343.0 186.1,350.0 182.3,356.0 177.8,362.0 172.0,368.4 166.0,374.1 158.0,380.8 149.0,387.2 117.3,407.0 92.0,423.7 81.0,430.2 70.0,435.4M403.0,364.0 412.0,363.5 422.0,364.8 432.0,367.7 441.6,372.0 451.5,378.0 461.0,385.3 471.0,394.5 480.8,405.0 490.5,417.0 499.0,429.0 506.8,442.0 513.3,455.0 518.7,468.0 522.8,481.0 525.8,494.0 527.8,508.0 528.4,520.0 528.0,532.0 526.6,544.0 524.3,555.0 520.8,566.0 516.6,576.0 511.2,586.0 505.0,595.1 498.0,603.4 490.0,611.1 481.0,618.0 472.0,623.6 462.0,628.4 451.0,632.3 440.0,635.0 429.0,636.5 416.0,637.1 403.0,636.5 389.0,634.5 375.0,631.4 361.0,627.1 347.0,621.6 332.0,614.5 319.0,607.2 308.1,600.0 299.3,593.0 292.0,585.8 285.6,578.0 280.1,569.0 276.0,560.0 273.0,550.1 271.5,541.0 271.4,532.0 272.6,524.0 284.4,491.0 289.7,480.0 296.6,468.0 305.0,455.0 314.0,442.3 326.0,427.1 344.0,406.0 356.0,392.9 367.0,382.4 376.0,375.2 385.0,369.7 394.0,366.0 403.0,364.0M126.6,24.0 124.1,49.0 121.8,63.0 118.0,78.0 112.7,93.0 108.6,102.0 104.0,110.2 99.0,117.6 81.0,141.9 74.8,152.0 70.0,161.2M70.0,254.1 75.0,258.7 79.9,262.0 86.0,264.8 92.0,266.8 99.0,268.2 108.0,269.3 134.0,270.1 142.0,270.8 151.0,273.0 160.0,277.2 166.0,281.3 171.4,286.0 176.8,292.0 181.0,298.0 184.3,304.0 187.1,311.0 188.5,317.0 189.0,323.0 188.6,329.0 187.3,335.0 185.1,341.0 182.5,346.0 178.5,352.0 174.0,357.4 168.0,363.5 162.0,368.6 153.0,375.0 142.0,381.4 106.0,398.5 70.0,417.4M401.0,376.0 409.0,375.4 418.0,376.2 426.0,378.3 435.0,382.2 444.0,387.6 452.4,394.0 461.1,402.0 470.0,411.8 478.6,423.0 485.9,434.0 492.2,445.0 497.8,457.0 502.5,469.0 506.1,481.0 508.9,494.0 510.4,506.0 511.0,517.0 510.6,528.0 509.3,539.0 507.1,549.0 504.0,559.0 500.2,568.0 495.2,577.0 490.0,584.6 483.7,592.0 477.0,598.4 469.0,604.6 461.0,609.6 452.0,613.9 443.0,617.1 433.0,619.6 423.0,620.9 412.0,621.4 400.0,620.8 387.0,619.0 374.0,616.2 360.0,612.2 347.0,607.4 334.0,601.6 323.0,595.7 314.0,589.9 305.3,583.0 298.1,576.0 292.4,569.0 287.4,561.0 283.6,553.0 281.0,544.9 279.5,536.0 279.4,529.0 280.4,521.0 285.8,500.0 288.7,491.0 292.6,482.0 298.0,471.9 304.8,461.0 312.0,451.0 322.0,438.7 336.0,423.4 353.0,406.1 366.0,394.3 375.0,387.4 384.0,381.9 393.0,378.0 401.0,376.0M119.0,24.0 117.6,47.0 116.1,59.0 112.9,73.0 108.0,87.0 103.4,97.0 98.0,106.1 79.8,130.0 70.0,144.6M70.0,269.5 78.0,272.7 88.0,274.5 104.0,275.2 138.0,274.6 147.0,275.9 155.0,278.5 161.0,281.8 166.7,286.0 171.8,291.0 176.5,297.0 180.1,303.0 182.7,309.0 184.5,316.0 185.0,322.0 184.5,328.0 183.0,333.8 180.8,339.0 177.2,345.0 173.0,350.4 168.0,355.5 162.0,360.6 156.0,364.8 146.0,370.5 134.0,375.6 123.0,379.1 92.0,387.7 70.0,395.9M398.0,388.9 406.0,388.1 413.0,388.6 420.0,390.2 428.0,393.3 436.0,397.9 443.0,403.1 450.7,410.0 458.1,418.0 465.0,426.8 471.1,436.0 476.8,446.0 482.0,457.0 486.2,468.0 489.5,479.0 492.1,491.0 493.6,502.0 494.1,512.0 493.9,522.0 493.0,531.0 491.4,540.0 488.8,549.0 485.7,557.0 481.7,565.0 477.0,572.3 471.6,579.0 465.7,585.0 459.0,590.5 452.0,595.0 444.0,599.1 436.0,602.1 428.0,604.2 419.0,605.6 409.0,606.0 398.0,605.4 385.0,603.7 372.0,601.1 360.0,597.8 348.0,593.7 338.0,589.4 328.0,584.1 320.0,578.9 312.5,573.0 306.0,566.6 300.6,560.0 296.0,552.9 292.2,545.0 289.6,537.0 288.2,529.0 288.0,520.0 288.9,510.0 290.6,500.0 293.1,491.0 296.7,482.0 301.0,473.5 306.9,464.0 313.0,455.6 322.0,444.9 332.0,434.7 350.0,418.0 363.0,407.1 373.0,399.9 382.0,394.6 390.0,391.1 398.0,388.9M111.4,24.0 110.7,46.0 109.7,56.0 107.3,68.0 103.4,80.0 98.9,90.0 93.0,100.0 88.0,106.9 77.9,119.0 70.0,129.8M70.0,284.1 75.0,284.5 81.0,284.3 117.0,280.1 132.0,278.8 142.0,279.0 151.0,280.8 157.0,283.3 162.0,286.4 167.5,291.0 172.0,296.1 175.9,302.0 178.7,308.0 180.6,315.0 181.1,321.0 180.5,327.0 178.6,333.0 176.0,338.3 172.0,343.9 167.0,349.2 161.0,354.2 155.0,358.2 148.0,362.0 136.0,366.6 122.0,369.6 109.0,370.9 82.0,371.9 70.0,373.5M395.0,401.9 402.0,401.2 408.0,401.5 415.0,402.9 421.0,405.2 427.0,408.4 434.0,413.2 441.0,419.3 447.4,426.0 453.0,433.0 458.5,441.0 463.0,449.0 467.3,458.0 470.8,467.0 473.9,477.0 475.9,486.0 477.4,496.0 478.2,505.0 478.2,514.0 477.6,523.0 476.3,531.0 474.4,539.0 472.0,546.0 468.8,553.0 465.0,559.5 461.0,565.1 455.7,571.0 450.0,576.1 444.0,580.5 437.0,584.4 430.0,587.3 423.0,589.4 416.0,590.7 406.0,591.1 394.0,590.5 382.0,589.2 370.0,587.0 360.0,584.5 350.0,581.1 341.0,577.3 332.0,572.5 325.0,567.7 318.0,561.9 312.0,555.6 307.0,549.0 302.9,542.0 299.3,534.0 296.9,526.0 295.4,518.0 295.0,510.0 295.4,502.0 296.8,494.0 298.9,487.0 302.3,479.0 306.6,471.0 312.0,463.0 318.0,455.5 326.0,447.0 335.0,438.7 350.0,426.3 362.0,417.3 371.0,411.5 379.0,407.2 387.0,404.0 395.0,401.9M103.6,24.0 103.2,45.0 102.6,53.0 100.6,64.0 97.5,74.0 93.1,84.0 87.9,93.0 82.1,101.0 70.0,115.7M70.0,300.5 94.6,291.0 111.0,286.5 122.0,284.3 131.7,283.0 139.0,282.7 146.0,283.4 152.0,284.9 158.0,287.6 163.0,291.1 167.9,296.0 171.6,301.0 174.7,307.0 176.5,313.0 177.2,319.0 176.7,325.0 174.8,331.0 171.5,337.0 167.0,342.5 161.0,347.9 155.0,351.9 148.0,355.5 140.0,358.4 133.0,360.1 126.0,361.1 118.0,361.4 110.0,361.0 93.0,358.2 70.0,352.0M396.0,414.0 402.0,414.1 408.0,415.0 414.0,417.0 420.0,419.9 426.0,423.9 432.0,428.8 437.1,434.0 442.1,440.0 447.0,447.0 451.0,454.0 454.8,462.0 457.8,470.0 460.2,478.0 462.1,487.0 463.3,496.0 463.7,504.0 463.5,512.0 462.7,520.0 461.4,527.0 459.4,534.0 457.0,540.3 454.0,546.3 450.4,552.0 446.0,557.5 441.0,562.4 436.0,566.4 431.0,569.6 425.0,572.5 419.0,574.7 413.0,576.1 406.0,577.0 398.0,577.4 388.0,577.2 378.0,576.3 369.0,574.8 360.0,572.7 352.0,570.1 344.0,566.8 337.0,563.1 330.0,558.5 324.0,553.5 318.0,547.4 313.1,541.0 309.0,534.3 305.5,527.0 303.0,519.7 301.3,512.0 300.7,505.0 301.1,498.0 302.1,492.0 304.0,485.6 306.7,479.0 310.6,472.0 315.0,465.5 320.0,459.4 326.0,453.2 334.0,446.1 344.0,438.4 356.0,430.0 366.0,423.9 374.0,419.8 382.0,416.7 389.0,414.9 396.0,414.0M95.5,24.0 94.5,50.0 93.1,59.0 90.9,67.0 87.4,76.0 83.0,84.4 77.9,92.0 70.0,102.1M133.0,287.0 139.0,286.5 144.0,286.8 149.0,287.6 153.0,288.9 157.0,290.8 161.0,293.6 164.7,297.0 168.0,301.2 170.2,305.0 172.2,310.0 173.2,315.0 173.4,320.0 172.5,325.0 171.1,329.0 169.0,333.0 166.0,337.0 159.0,343.4 150.0,348.7 140.0,352.2 129.0,353.9 118.0,353.4 106.9,351.0 97.0,347.0 91.9,344.0 87.9,341.0 84.8,338.0 81.7,334.0 79.8,330.0 78.9,326.0 78.9,322.0 80.0,318.0 81.9,314.0 84.8,310.0 88.5,306.0 93.3,302.0 99.4,298.0 105.0,295.1 118.7,290.0 133.0,287.0M391.0,426.0 397.0,426.1 403.0,427.1 409.0,429.1 415.0,432.1 420.6,436.0 426.0,440.7 430.8,446.0 435.2,452.0 439.4,459.0 442.8,466.0 445.4,473.0 447.7,481.0 449.2,489.0 450.0,497.0 450.0,505.0 449.4,513.0 448.1,520.0 446.4,526.0 444.1,532.0 441.0,538.0 437.7,543.0 433.5,548.0 429.0,552.2 424.0,555.9 414.0,560.9 408.0,562.8 402.0,564.1 395.0,565.0 387.0,565.4 372.0,564.4 358.0,561.4 345.0,556.5 334.0,550.0 329.0,546.0 324.0,541.3 320.0,536.7 316.0,531.0 312.5,525.0 309.9,519.0 307.9,513.0 306.7,507.0 306.3,501.0 306.7,495.0 307.9,489.0 309.5,484.0 312.0,478.3 315.0,473.1 323.0,462.8 333.0,453.4 348.0,442.7 365.0,433.2 372.0,430.2 379.0,427.9 385.0,426.6 391.0,426.0M87.0,24.0 85.9,45.0 83.4,59.0 81.2,66.0 78.2,73.0 74.5,80.0 70.0,86.9M134.0,290.9 142.0,290.3 149.0,291.2 155.9,294.0 161.3,298.0 166.0,304.0 168.6,310.0 169.6,317.0 168.6,324.0 165.8,330.0 161.0,335.8 155.0,340.4 148.0,344.0 141.0,346.1 133.0,347.2 125.0,346.9 117.0,345.1 111.5,343.0 107.0,340.5 103.0,337.4 99.9,334.0 97.4,330.0 96.0,326.0 95.6,322.0 96.4,317.0 98.0,313.0 100.5,309.0 104.1,305.0 109.0,301.0 115.0,297.4 121.0,294.6 128.0,292.3 134.0,290.9M379.0,438.0 385.0,437.3 390.0,437.4 395.0,438.0 400.0,439.3 405.0,441.3 409.8,444.0 414.0,447.1 418.3,451.0 422.6,456.0 426.0,460.9 431.6,472.0 433.7,478.0 435.4,485.0 436.8,498.0 435.9,510.0 432.9,521.0 428.0,530.8 421.4,539.0 417.0,542.9 413.0,545.6 404.0,550.1 393.0,553.1 381.0,554.2 368.0,553.4 355.0,550.4 344.0,545.8 339.0,542.9 333.5,539.0 325.0,530.7 321.0,525.5 318.0,520.5 315.4,515.0 313.7,510.0 312.4,504.0 312.1,499.0 312.4,494.0 313.3,489.0 316.7,480.0 322.4,471.0 330.0,462.8 341.0,454.2 354.0,446.7 367.0,441.1 379.0,438.0M77.8,24.0 76.9,38.0 75.4,48.0 73.2,57.0 70.0,65.9M136.0,294.9 142.0,294.2 148.0,294.7 153.0,296.3 157.4,299.0 161.4,303.0 164.0,307.5 165.5,313.0 165.6,318.0 164.4,323.0 162.0,327.7 158.3,332.0 154.0,335.3 149.0,338.0 143.0,339.9 137.0,340.8 131.0,340.7 126.0,339.8 121.0,338.0 117.0,335.8 113.5,333.0 110.9,330.0 108.8,326.0 108.0,323.0 107.9,319.0 108.8,315.0 110.6,311.0 113.6,307.0 116.7,304.0 120.8,301.0 126.0,298.1 131.0,296.2 136.0,294.9M372.0,448.9 381.0,448.2 390.0,449.2 398.0,452.1 406.0,457.3 412.4,464.0 417.9,473.0 421.5,483.0 423.1,493.0 422.9,503.0 420.9,512.0 417.0,520.9 411.9,528.0 405.0,534.2 397.0,538.7 388.0,541.8 378.0,543.3 367.0,543.0 357.0,541.2 347.0,537.5 337.8,532.0 330.0,525.0 324.0,517.0 319.9,508.0 318.2,499.0 318.8,491.0 321.4,483.0 326.0,475.3 332.0,468.6 340.0,462.1 350.0,456.3 361.0,451.7 372.0,448.9M139.0,298.8 144.0,298.3 148.0,298.7 152.0,299.9 155.5,302.0 158.5,305.0 160.2,308.0 161.4,312.0 161.6,316.0 160.8,320.0 159.0,323.7 156.4,327.0 153.0,329.9 149.0,332.1 145.0,333.5 141.0,334.2 136.0,334.3 129.0,332.6 125.8,331.0 123.1,329.0 121.0,326.6 119.5,324.0 118.6,321.0 118.5,318.0 119.0,315.0 120.1,312.0 122.0,309.0 124.8,306.0 131.0,301.7 135.0,299.9 139.0,298.8M373.0,459.0 381.0,459.7 388.3,462.0 395.0,466.0 400.2,471.0 404.8,478.0 407.7,486.0 408.8,494.0 408.3,502.0 406.3,509.0 402.6,516.0 398.0,521.4 392.0,526.1 385.0,529.5 377.0,531.7 369.0,532.4 360.0,531.6 352.0,529.5 345.0,526.4 339.0,522.4 333.3,517.0 329.0,511.0 326.3,505.0 325.0,498.0 325.3,492.0 327.1,486.0 330.4,480.0 335.0,474.6 341.0,469.6 348.0,465.5 356.2,462.0 365.0,459.7 373.0,459.0M140.0,303.9 146.0,303.0 151.0,304.1 154.9,307.0 156.8,311.0 156.7,316.0 154.3,321.0 150.0,324.8 145.0,326.8 140.0,327.1 135.0,325.8 131.2,323.0 129.1,319.0 128.9,317.0 129.3,314.0 131.4,310.0 135.0,306.5 140.0,303.9M361.0,471.0 367.0,470.6 372.0,471.2 377.0,472.6 381.7,475.0 385.4,478.0 388.6,482.0 390.7,486.0 392.0,491.0 392.3,496.0 391.5,501.0 389.6,506.0 386.9,510.0 383.0,513.9 379.0,516.6 374.0,518.7 369.0,519.9 363.0,520.4 357.0,519.8 351.0,518.1 346.0,515.7 341.0,512.1 337.2,508.0 334.8,504.0 333.2,499.0 333.0,494.0 334.0,489.9 336.5,485.0 339.8,481.0 344.0,477.6 349.0,474.7 355.0,472.3 361.0,471.0M146.0,311.6 148.0,312.0 148.3,313.0 148.0,314.0 147.0,314.9 145.0,315.2 144.0,314.3 144.1,313.0 146.0,311.6M355.0,488.0 358.0,487.6 361.3,488.0 364.0,489.2 366.1,491.0 367.2,493.0 367.5,496.0 366.3,499.0 364.3,501.0 360.0,502.9 356.0,503.0 352.0,501.9 348.4,499.0 347.2,496.0 348.0,492.8 351.0,489.7 355.0,488.0" fill="none" stroke="#6e6e6e" stroke-width="0.5"/></g>
</g>
<g mask="url(#dgmask)"><path d="M68.7,3.5V753.3M230.5,3.5V753.3M392.6,3.5V753.3M554.5,3.5V753.3M34.0,71.6H677.8M34.0,234.0H677.8M34.0,395.6H677.8M34.0,557.6H677.8M34.0,719.8H677.8" stroke="#6e6e6e" stroke-opacity="0.36" stroke-width="0.8" fill="none"/></g>
<rect x="34.0" y="3.5" width="643.8" height="749.8" fill="none" stroke="#2e2e2e" stroke-width="1.25"/>
<path d="M68.7,753.3v6M230.5,753.3v6M392.6,753.3v6M554.5,753.3v6M34.0,71.6h-6.5M34.0,234.0h-6.5M34.0,395.6h-6.5M34.0,557.6h-6.5M34.0,719.8h-6.5" stroke="#111" stroke-width="1.3" fill="none"/>
<g font-family="'Liberation Serif',serif" font-weight="bold" font-size="23.3" fill="#000" text-anchor="middle">
<text x="57.5" y="781">35618000</text>
<text x="219.3" y="781">35619000</text>
<text x="381.4" y="781">35620000</text>
<text x="543.3" y="781">35621000</text>
<text transform="translate(20.5,83.2) rotate(-90)">3026000</text>
<text transform="translate(20.5,245.6) rotate(-90)">3025000</text>
<text transform="translate(20.5,407.2) rotate(-90)">3024000</text>
<text transform="translate(20.5,569.2) rotate(-90)">3023000</text>
</g>
<circle cx="93.2" cy="57" r="5.5" fill="#000"/>
<circle cx="123.9" cy="121.2" r="5.5" fill="#000"/>
<circle cx="252" cy="48" r="5.5" fill="#000"/>
<circle cx="372.7" cy="56" r="5.5" fill="#000"/>
<circle cx="419.6" cy="123.7" r="5.5" fill="#000"/>
<circle cx="239.5" cy="148.3" r="5.5" fill="#000"/>
<circle cx="350" cy="174.5" r="5.5" fill="#000"/>
<circle cx="184.5" cy="202.5" r="5.5" fill="#000"/>
<circle cx="630.2" cy="165.5" r="5.5" fill="#000"/>
<circle cx="112.5" cy="240" r="5.5" fill="#000"/>
<circle cx="234.2" cy="255.7" r="5.5" fill="#000"/>
<circle cx="496.6" cy="249.3" r="5.5" fill="#000"/>
<circle cx="158" cy="303.2" r="5.5" fill="#000"/>
<circle cx="402.2" cy="361.2" r="5.5" fill="#000"/>
<circle cx="264.4" cy="436.9" r="5.5" fill="#000"/>
<circle cx="329.9" cy="489.3" r="5.5" fill="#000"/>
<circle cx="136.2" cy="533.5" r="5.5" fill="#000"/>
<circle cx="238.6" cy="678.4" r="5.5" fill="#000"/>
<g font-family="'Liberation Serif',serif" font-size="21.3" fill="#0a0a0a">
<text x="105.0" y="62.1">zk08</text>
<text x="129.3" y="111">zk09</text>
<text x="232.6" y="77.5">zk10</text>
<text x="326.6" y="80.5">zk11</text>
<text x="245.1" y="138">zk12</text>
<text x="356.1" y="163.7">zk04</text>
<text x="425.7" y="113.4">zk05</text>
<text x="190.3" y="192">zk07</text>
<text x="579.1" y="175">zk18</text>
<text x="117.6" y="230">zk06</text>
<text x="240" y="245.7">zk03</text>
<text x="502.1" y="239">zk17</text>
<text x="164.6" y="292.7">zk02</text>
<text x="407.2" y="350.7">zk16</text>
<text x="270.3" y="426">zk15</text>
<text x="336.3" y="479">zk14</text>
<text x="142.1" y="522.7">zk13</text>
<text x="244.2" y="668.3">zk01</text>
</g>
<text x="607.3" y="65.6" font-family="'Liberation Sans',sans-serif" font-size="28.3" text-anchor="middle" fill="#000">N</text>
<path d="M606.7,71.8 L586.8,138.3 L607,114 Z" fill="#000"/>
<path d="M606.7,71.8 L626.6,138.6 L606.6,114 Z M608.2,82 L608.1,113.5 L623,131.8 Z" fill="#000" fill-rule="evenodd"/>
<rect x="100.5" y="709.8" width="162.2" height="10.5" fill="#fff" stroke="#000" stroke-width="1"/>
<rect x="100.5" y="709.8" width="82.3" height="10.5" fill="#000"/>
<g font-family="'Liberation Sans',sans-serif" font-size="19.8" fill="#111">
<text x="96.2" y="744.2">0</text>
<text x="238.2" y="744.2">1,000</text>
<text x="267.7" y="720" font-size="18.6" textLength="51.3" lengthAdjust="spacingAndGlyphs">Meter</text>
</g>
<g font-family="'Liberation Serif',serif" fill="#000">
<text x="526.3" y="498.7" font-size="22.9" font-weight="bold">Legend</text>
<text x="527.6" y="525" font-size="21.9">unit (%)</text>
<text x="527.3" y="554.5" font-size="21.8">Borehole and</text>
<text x="527.3" y="572.5" font-size="21.8">number</text>
<rect x="467.8" y="540.7" width="53.4" height="25.8" fill="#fff" stroke="#b5b5b5" stroke-width="0.6"/>
<circle cx="480.2" cy="553.4" r="7" fill="#000"/>
<text x="493" y="558" font-size="13.2" fill="#222">zk1</text>
<rect x="468" y="577.0" width="53" height="26.3" fill="#38a800" stroke="#8a8a8a" stroke-width="0.5"/>
<text x="530.6" y="598.3" font-size="23.1">0.090 - 0.210</text>
<rect x="468" y="612.9" width="53" height="26.3" fill="#8bd100" stroke="#8a8a8a" stroke-width="0.5"/>
<text x="530.6" y="634.2" font-size="23.1">0.211 - 0.330</text>
<rect x="468" y="648.7" width="53" height="26.3" fill="#ffff00" stroke="#8a8a8a" stroke-width="0.5"/>
<text x="530.6" y="670.1" font-size="23.1">0.331 - 0.430</text>
<rect x="468" y="684.5" width="53" height="26.3" fill="#ff8000" stroke="#8a8a8a" stroke-width="0.5"/>
<text x="530.6" y="705.9" font-size="23.1">0.431 - 0.530</text>
<rect x="468" y="720.4" width="53" height="26.3" fill="#ff0000" stroke="#8a8a8a" stroke-width="0.5"/>
<text x="530.6" y="741.8" font-size="23.1">0.531 - 0.650</text>
</g>
</svg>
</body></html>
